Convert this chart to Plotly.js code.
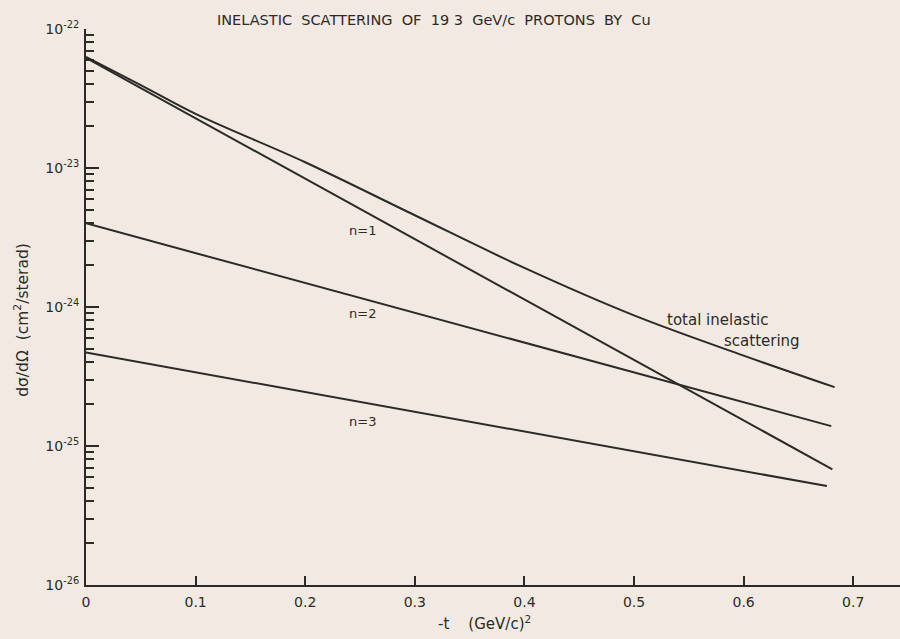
<!DOCTYPE html>
<html>
<head>
<meta charset="utf-8">
<script src="https://cdn.plot.ly/plotly-3.0.1.min.js"></script>
<style>
html,body{margin:0;padding:0;background:#f2eae2;}
#chart{width:900px;height:639px;}
</style>
</head>
<body>
<div id="chart"></div>
<script>
// Data
const n1X = [0, 0.681];
const n1Y = [6.2e-23, 6.8e-26];
const n2X = [0, 0.680];
const n2Y = [4.0e-24, 1.39e-25];
const n3X = [0, 0.676];
const n3Y = [4.7e-25, 5.15e-26];
const totalX = [0, 0.05, 0.1, 0.2, 0.3, 0.4, 0.5, 0.6, 0.683];
const totalY = [6.3e-23, 3.95e-23, 2.45e-23, 1.10e-23, 4.57e-24, 1.91e-24, 8.7e-25, 4.47e-25, 2.65e-25];

const xTickVals = [0, 0.1, 0.2, 0.3, 0.4, 0.5, 0.6, 0.7];
const xTickText = ["0", "0.1", "0.2", "0.3", "0.4", "0.5", "0.6", "0.7"];
const yTickVals = [1e-26, 1e-25, 1e-24, 1e-23, 1e-22];
const yTickText = ["10<sup>-26</sup>", "10<sup>-25</sup>", "10<sup>-24</sup>", "10<sup>-23</sup>", "10<sup>-22</sup>"];

const ink = "#2b2a26";
const fontFam = "DejaVu Sans, sans-serif";
const lineStyle = {color: ink, width: 2};

const traces = [
  {x: n1X, y: n1Y, mode: "lines", line: lineStyle, name: "n=1"},
  {x: n2X, y: n2Y, mode: "lines", line: lineStyle, name: "n=2"},
  {x: n3X, y: n3Y, mode: "lines", line: lineStyle, name: "n=3"},
  {x: totalX, y: totalY, mode: "lines", line: {color: ink, width: 2, shape: "spline"}, name: "total"}
];

const layout = {
  width: 900, height: 639,
  margin: {l: 86, r: 0, t: 29, b: 54},
  paper_bgcolor: "#f2eae2",
  plot_bgcolor: "#f2eae2",
  showlegend: false,
  font: {family: fontFam, color: ink, size: 13},
  xaxis: {
    range: [0, 0.7427],
    tickvals: xTickVals, ticktext: xTickText,
    ticks: "inside", ticklen: 9, tickwidth: 2, tickcolor: ink,
    showline: true, linecolor: ink, linewidth: 2,
    showgrid: false, zeroline: false,
    tickfont: {family: fontFam, size: 14, color: ink},
    ticklabelstandoff: 3
  },
  yaxis: {
    type: "log",
    range: [-26, -22],
    tickvals: yTickVals, ticktext: yTickText,
    ticks: "inside", ticklen: 13, tickwidth: 2, tickcolor: ink,
    minor: {ticks: "inside", ticklen: 8, tickwidth: 2, tickcolor: ink, dtick: "D1", showgrid: false},
    showline: true, linecolor: ink, linewidth: 2,
    showgrid: false, zeroline: false,
    tickfont: {family: fontFam, size: 14, color: ink},
    ticklabelstandoff: 2
  },
  annotations: [
    {xref: "paper", yref: "paper", x: 0.159, y: 1, yshift: 9, xanchor: "left", yanchor: "middle",
     text: "INELASTIC  SCATTERING  OF  19 3  GeV/c  PROTONS  BY  Cu", showarrow: false,
     font: {family: fontFam, size: 14.5, color: ink}},
    {xref: "paper", yref: "paper", x: 0.49, y: 0, yshift: -38, xanchor: "center", yanchor: "middle",
     text: "-t    (GeV/c)<sup>2</sup>", showarrow: false,
     font: {family: fontFam, size: 15, color: ink}},
    {xref: "paper", yref: "paper", x: 0, xshift: -64, y: 0.477, xanchor: "center", yanchor: "middle", textangle: -90,
     text: "dσ/dΩ  (cm<sup>2</sup>/sterad)", showarrow: false,
     font: {family: fontFam, size: 15.5, color: ink}},
    {x: 0.252, y: -23.453, text: "n=1", showarrow: false, font: {family: fontFam, size: 13, color: ink}},
    {x: 0.252, y: -24.05, text: "n=2", showarrow: false, font: {family: fontFam, size: 13, color: ink}},
    {x: 0.252, y: -24.827, text: "n=3", showarrow: false, font: {family: fontFam, size: 13, color: ink}},
    {x: 0.528, y: -24.094, xanchor: "left", text: "total inelastic", showarrow: false, font: {family: fontFam, size: 15, color: ink}},
    {x: 0.580, y: -24.245, xanchor: "left", text: "scattering", showarrow: false, font: {family: fontFam, size: 15, color: ink}}
  ]
};

Plotly.newPlot("chart", traces, layout, {displayModeBar: false, staticPlot: true});
</script>
</body>
</html>
